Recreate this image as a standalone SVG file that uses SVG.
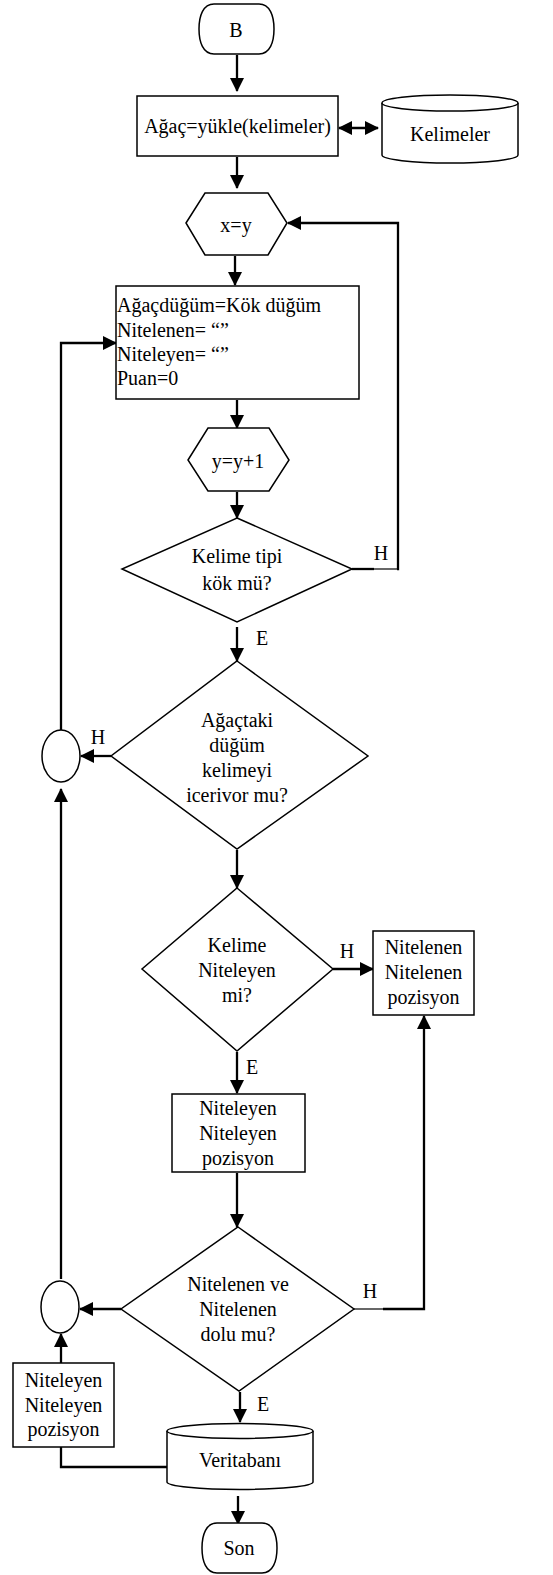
<svg xmlns="http://www.w3.org/2000/svg" width="553" height="1575" viewBox="0 0 553 1575">
<style>
.s{fill:#fff;stroke:#000;stroke-width:1.5}
.c{fill:none;stroke:#000;stroke-width:2.3}
text{font-family:'Liberation Serif','DejaVu Serif',serif;font-size:20px;fill:#000}
.t{text-anchor:middle}
</style>
<defs>
<marker id="a" viewBox="0 0 14 14" refX="13" refY="7" markerWidth="14" markerHeight="14" markerUnits="userSpaceOnUse" orient="auto-start-reverse">
<path d="M0,0 L14,7 L0,14 Z" fill="#000"/>
</marker>
</defs>
<rect width="553" height="1575" fill="#fff"/>
<g id="connectors">
<path class="c" d="M237,55 V91" marker-end="url(#a)"/>
<path class="c" d="M339,128 H378" marker-start="url(#a)" marker-end="url(#a)"/>
<path class="c" d="M237,157 V188" marker-end="url(#a)"/>
<path class="c" d="M235,256 V285" marker-end="url(#a)"/>
<path class="c" d="M237,400 V428" marker-end="url(#a)"/>
<path class="c" d="M237,492 V518" marker-end="url(#a)"/>
<path class="c" d="M352,569 H374"/>
<path d="M374,569 H397" fill="none" stroke="#000" stroke-width="1.2"/>
<path class="c" d="M397,569 H398 V223 H288" marker-end="url(#a)"/>
<path class="c" d="M237,627 V661" marker-end="url(#a)"/>
<path class="c" d="M111,756 H81" marker-end="url(#a)"/>
<path class="c" d="M61,730 V343 H116" marker-end="url(#a)"/>
<path class="c" d="M237,850 V888" marker-end="url(#a)"/>
<path class="c" d="M333,969 H373" marker-end="url(#a)"/>
<path class="c" d="M237,1052 V1093" marker-end="url(#a)"/>
<path class="c" d="M237,1173 V1227" marker-end="url(#a)"/>
<path d="M354,1309 H383" fill="none" stroke="#000" stroke-width="1.2"/>
<path class="c" d="M383,1309 H424 V1016" marker-end="url(#a)"/>
<path class="c" d="M121,1309 H80" marker-end="url(#a)"/>
<path class="c" d="M61,1279 V789" marker-end="url(#a)"/>
<path class="c" d="M61,1363 V1334" marker-end="url(#a)"/>
<path class="c" d="M61,1447 V1467 H167"/>
<path class="c" d="M240,1392 V1422" marker-end="url(#a)"/>
<path class="c" d="M238,1496 V1524" marker-end="url(#a)"/>
</g>
<g id="start">
<path class="s" d="M214,4 H259 C270,4 274,16 274,29 C274,42 270,54 259,54 H214 C203,54 199,42 199,29 C199,16 203,4 214,4 Z"/>
<text class="t" x="236" y="37">B</text>
</g>
<g id="load">
<rect class="s" x="137" y="96" width="201" height="60"/>
<text class="t" x="237.5" y="133">Ağaç=yükle(kelimeler)</text>
</g>
<g id="kelimeler">
<path class="s" d="M382,103 A68,8 0 0 1 518,103 V155 A68,8 0 0 1 382,155 Z"/>
<path class="s" d="M382,103 A68,8 0 0 0 518,103" fill="none"/>
<text class="t" x="450" y="141">Kelimeler</text>
</g>
<g id="xy">
<path class="s" d="M186,223 L205,193 H268 L287,223 L268,255 H205 Z"/>
<text class="t" x="236" y="232">x=y</text>
</g>
<g id="init">
<rect class="s" x="116" y="286" width="243" height="113"/>
<text x="117" y="312">Ağaçdüğüm=Kök düğüm</text>
<text x="117" y="337">Nitelenen= “”</text>
<text x="117" y="361">Niteleyen= “”</text>
<text x="117" y="385">Puan=0</text>
</g>
<g id="yinc">
<path class="s" d="M188,460 L208,428 H269 L289,460 L269,491 H208 Z"/>
<text class="t" x="238" y="468">y=y+1</text>
</g>
<g id="d1">
<path class="s" d="M237,518 L352,569 L237,622 L122,569 Z"/>
<text class="t" x="237" y="563">Kelime tipi</text>
<text class="t" x="237" y="590">kök mü?</text>
<text class="t" x="381" y="560">H</text>
<text class="t" x="262" y="645">E</text>
</g>
<g id="d2">
<path class="s" d="M237,661 L368,756 L237,849 L111,756 Z"/>
<text class="t" x="237" y="727">Ağaçtaki</text>
<text class="t" x="237" y="752">düğüm</text>
<text class="t" x="237" y="777">kelimeyi</text>
<text class="t" x="237" y="802">icerivor mu?</text>
<text class="t" x="98" y="744">H</text>
</g>
<g id="circle1">
<ellipse class="s" cx="61" cy="756" rx="19" ry="26"/>
</g>
<g id="d3">
<path class="s" d="M237,888 L333,969 L237,1051 L142,969 Z"/>
<text class="t" x="237" y="952">Kelime</text>
<text class="t" x="237" y="977">Niteleyen</text>
<text class="t" x="237" y="1002">mi?</text>
<text class="t" x="347" y="958">H</text>
<text class="t" x="252" y="1074">E</text>
</g>
<g id="nitelenen">
<rect class="s" x="373" y="931" width="101" height="84"/>
<text class="t" x="423.5" y="954">Nitelenen</text>
<text class="t" x="423.5" y="979">Nitelenen</text>
<text class="t" x="423.5" y="1004">pozisyon</text>
</g>
<g id="niteleyen">
<rect class="s" x="172" y="1094" width="133" height="78"/>
<text class="t" x="238" y="1115">Niteleyen</text>
<text class="t" x="238" y="1140">Niteleyen</text>
<text class="t" x="238" y="1165">pozisyon</text>
</g>
<g id="d4">
<path class="s" d="M238,1227 L354,1309 L239,1391 L121,1309 Z"/>
<text class="t" x="238" y="1291">Nitelenen ve</text>
<text class="t" x="238" y="1316">Nitelenen</text>
<text class="t" x="238" y="1341">dolu mu?</text>
<text class="t" x="370" y="1298">H</text>
<text class="t" x="263" y="1411">E</text>
</g>
<g id="circle2">
<ellipse class="s" cx="60" cy="1307" rx="19" ry="26"/>
</g>
<g id="niteleyen2">
<rect class="s" x="13" y="1363" width="101" height="84"/>
<text class="t" x="63.5" y="1387">Niteleyen</text>
<text class="t" x="63.5" y="1412">Niteleyen</text>
<text class="t" x="63.5" y="1436">pozisyon</text>
</g>
<g id="veritabani">
<path class="s" d="M167,1431 A73,7.5 0 0 1 313,1431 V1482 A73,7.5 0 0 1 167,1482 Z"/>
<path class="s" d="M167,1431 A73,7.5 0 0 0 313,1431" fill="none"/>
<text class="t" x="240" y="1467">Veritabanı</text>
</g>
<g id="end">
<path class="s" d="M217,1523 H262 C273,1523 277,1535 277,1548 C277,1561 273,1573 262,1573 H217 C206,1573 202,1561 202,1548 C202,1535 206,1523 217,1523 Z"/>
<text class="t" x="239" y="1555">Son</text>
</g>
</svg>
